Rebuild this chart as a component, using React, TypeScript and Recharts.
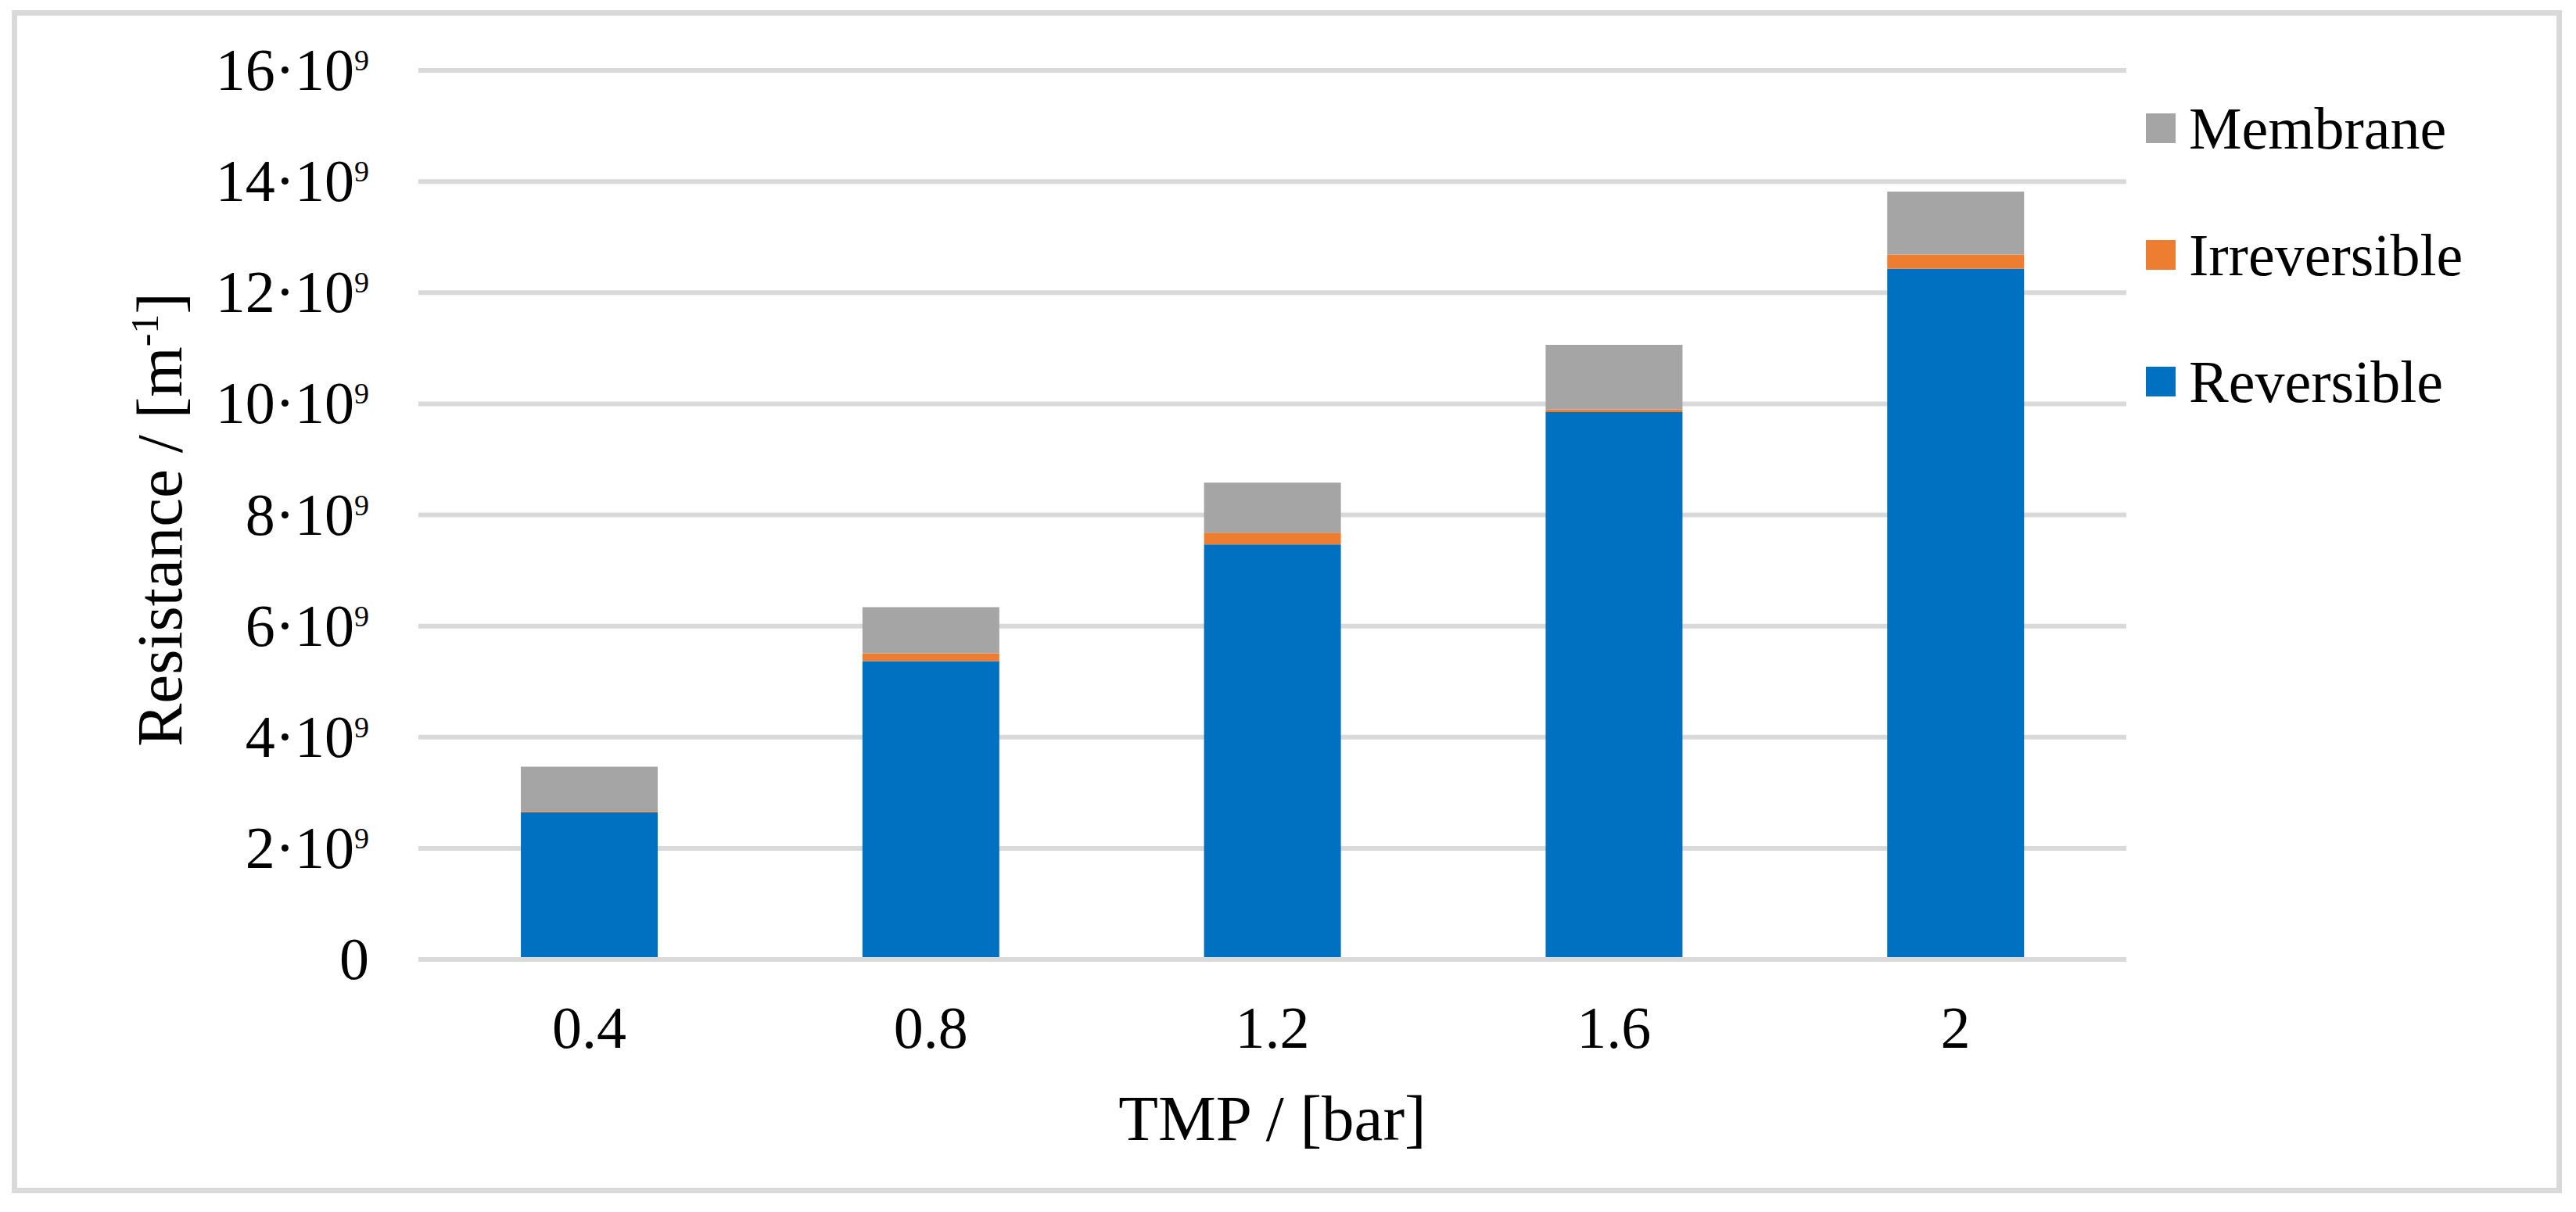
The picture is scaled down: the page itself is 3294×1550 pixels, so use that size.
import React from 'react';
import { BarChart, Bar, XAxis, YAxis, CartesianGrid, Legend, Label } from 'recharts';

// values in units of 10^9 m^-1
const tmpLabels = ['0.4', '0.8', '1.2', '1.6', '2'];
const reversible = [2.65, 5.37, 7.47, 9.85, 12.43];
const irreversible = [0.02, 0.14, 0.21, 0.05, 0.255];
const membrane = [0.8, 0.83, 0.9, 1.16, 1.135];
const yTicks = [0, 2, 4, 6, 8, 10, 12, 14, 16];
const legendOrder = ['Membrane', 'Irreversible', 'Reversible'];

const FONT = '"Liberation Serif", "Times New Roman", serif';
const GRID = '#D9D9D9';

const data = tmpLabels.map((tmp, i) => ({
  tmp,
  reversible: reversible[i],
  irreversible: irreversible[i],
  membrane: membrane[i],
}));

function YTick(props: any) {
  const { x, y, payload } = props;
  const v = payload.value;
  return (
    <text x={x} y={y} dy={25} textAnchor="end" fontFamily={FONT} fontSize={76} fill="#000">
      {v === 0 ? (
        '0'
      ) : (
        <>
          <tspan>{`${v}·10`}</tspan>
          <tspan fontSize={38} dy={-25}>9</tspan>
        </>
      )}
    </text>
  );
}

function XTick(props: any) {
  const { x, y, payload } = props;
  return (
    <text x={x} y={y} dy="0.71em" textAnchor="middle" fontFamily={FONT} fontSize={76} fill="#000">
      {payload.value}
    </text>
  );
}

function YTitle(props: any) {
  const vb = props.viewBox;
  const cx = vb.x + 232;
  const cy = vb.y + vb.height / 2 + 6;
  return (
    <text
      x={cx}
      y={cy}
      transform={`rotate(-90, ${cx}, ${cy})`}
      textAnchor="middle"
      fontFamily={FONT}
      fontSize={83}
      fill="#000"
    >
      <tspan>Resistance / [m</tspan>
      <tspan fontSize={50} dy={-30}>-1</tspan>
      <tspan dy={30}>]</tspan>
    </text>
  );
}

function LegendBox(props: any) {
  const payload = props.payload || [];
  const items = legendOrder
    .map((name) => payload.find((p: any) => p.value === name))
    .filter(Boolean);
  return (
    <div style={{ fontFamily: FONT, fontSize: 76, color: '#000' }}>
      {items.map((it: any) => (
        <div key={it.value} style={{ display: 'flex', alignItems: 'center', height: 162 }}>
          <span style={{ width: 38, height: 38, background: it.color, display: 'inline-block', marginRight: 17 }} />
          <span style={{ lineHeight: 1 }}>{it.value}</span>
        </div>
      ))}
    </div>
  );
}

export default function App() {
  return (
    <div style={{ position: 'absolute', left: 0, top: 0, width: 3294, height: 1550, background: '#fff' }}>
      <div
        style={{
          position: 'absolute',
          left: 15,
          top: 13,
          width: 3261,
          height: 1513,
          border: `7px solid ${GRID}`,
          boxSizing: 'border-box',
        }}
      />
      <BarChart
        width={3294}
        height={1550}
        data={data}
        margin={{ top: 90, right: 575, left: 0, bottom: 0 }}
        barCategoryGap="30%"
      >
        <CartesianGrid vertical={false} stroke={GRID} strokeWidth={6} />
        <XAxis
          dataKey="tmp"
          height={323}
          axisLine={{ stroke: GRID, strokeWidth: 6 }}
          tickLine={false}
          tickSize={0}
          tickMargin={59}
          tick={<XTick />}
        >
          <Label
            value="TMP / [bar]"
            position="insideBottom"
            offset={92}
            style={{ fontFamily: FONT, fontSize: 83, fill: '#000' }}
          />
        </XAxis>
        <YAxis
          width={535}
          domain={[0, 16]}
          ticks={yTicks}
          axisLine={false}
          tickLine={false}
          tickSize={0}
          tickMargin={63}
          tick={<YTick />}
          label={<YTitle />}
        />
        <Legend
          layout="vertical"
          align="center"
          verticalAlign="middle"
          content={<LegendBox />}
          wrapperStyle={{ position: 'absolute', left: 2744, top: 83, width: 520 }}
        />
        <Bar dataKey="reversible" name="Reversible" stackId="r" fill="#0070C0" isAnimationActive={false} />
        <Bar dataKey="irreversible" name="Irreversible" stackId="r" fill="#ED7D31" isAnimationActive={false} />
        <Bar dataKey="membrane" name="Membrane" stackId="r" fill="#A5A5A5" isAnimationActive={false} />
      </BarChart>
    </div>
  );
}
